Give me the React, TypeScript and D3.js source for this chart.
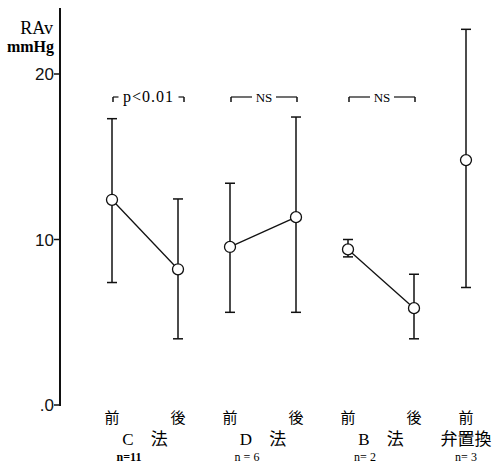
import * as React from "react";
import * as d3 from "d3";

const groups = ["C　法", "D　法", "B　法", "弁置換"];
const nLabels = ["n=11", "n = 6", "n= 2", "n= 3"];
const phases = [["前", "後"], ["前", "後"], ["前", "後"], ["前"]];
const means = [[12.4, 8.2], [9.55, 11.35], [9.4, 5.85], [14.8]];
const upper = [[17.3, 12.45], [13.4, 17.4], [10.0, 7.9], [22.7]];
const lower = [[7.4, 4.0], [5.6, 5.6], [8.95, 4.0], [7.1]];
const sigLabels = ["p<0.01", "NS", "NS", null];
const yTicks = [0, 10, 20];
const yTickLabels = [".0", "10", "20"];

const W = 499;
const H = 468;
const serif = "'Liberation Serif', 'Noto Sans CJK JP', serif";

export default function App() {
  const ref = React.useRef<SVGSVGElement>(null);

  React.useEffect(() => {
    const svg = d3.select(ref.current);
    svg.selectAll("*").remove();

    const y = d3.scaleLinear().domain([0, 20]).range([405, 74]);
    const gx = d3.scaleLinear().domain([0, 3]).range([112, 466]);
    const px = d3.scalePoint().domain(["前", "後"]).range([0, 66]);
    const xAt = (g: number, p: string) => gx(g) + (px(p) as number);

    // axis
    const axisX = 60;
    svg
      .append("line")
      .attr("x1", axisX)
      .attr("x2", axisX)
      .attr("y1", 8)
      .attr("y2", y(0) + 1)
      .attr("stroke", "#111")
      .attr("stroke-width", 2);

    yTicks.forEach((t, i) => {
      svg
        .append("line")
        .attr("x1", axisX - 6)
        .attr("x2", axisX)
        .attr("y1", y(t))
        .attr("y2", y(t))
        .attr("stroke", "#111")
        .attr("stroke-width", 1.5);
      svg
        .append("text")
        .attr("x", axisX - 6)
        .attr("y", y(t) + 6)
        .attr("text-anchor", "end")
        .attr("font-family", "'Liberation Sans', sans-serif")
        .attr("font-size", 17)
        .attr("fill", "#111")
        .text(yTickLabels[i]);
    });

    svg
      .append("text")
      .attr("x", 53)
      .attr("y", 34)
      .attr("text-anchor", "end")
      .attr("font-family", serif)
      .attr("font-size", 18)
      .text("RAv");
    svg
      .append("text")
      .attr("x", 54)
      .attr("y", 52)
      .attr("text-anchor", "end")
      .attr("font-family", serif)
      .attr("font-size", 16)
      .attr("font-weight", "bold")
      .text("mmHg");

    groups.forEach((name, g) => {
      const ph = phases[g];
      const pts = ph.map((p, i) => ({
        x: xAt(g, p),
        m: means[g][i],
        hi: upper[g][i],
        lo: lower[g][i],
      }));
      const grp = svg.append("g");

      // error bars
      pts.forEach((d) => {
        grp
          .append("line")
          .attr("x1", d.x)
          .attr("x2", d.x)
          .attr("y1", y(d.hi))
          .attr("y2", y(d.lo))
          .attr("stroke", "#111")
          .attr("stroke-width", 1.5);
        [d.hi, d.lo].forEach((v) => {
          grp
            .append("line")
            .attr("x1", d.x - 5)
            .attr("x2", d.x + 5)
            .attr("y1", y(v))
            .attr("y2", y(v))
            .attr("stroke", "#111")
            .attr("stroke-width", 1.5);
        });
      });

      // connecting line
      if (pts.length > 1) {
        grp
          .append("path")
          .attr(
            "d",
            d3
              .line<any>()
              .x((d) => d.x)
              .y((d) => y(d.m))(pts)
          )
          .attr("fill", "none")
          .attr("stroke", "#111")
          .attr("stroke-width", 1.3);
      }

      pts.forEach((d) => {
        grp
          .append("circle")
          .attr("cx", d.x)
          .attr("cy", y(d.m))
          .attr("r", 5.5)
          .attr("fill", "white")
          .attr("stroke", "#111")
          .attr("stroke-width", 1.3);
      });

      // significance bracket
      const sig = sigLabels[g];
      if (sig && pts.length > 1) {
        const x0 = pts[0].x + 1;
        const x1 = pts[1].x + (g === 0 ? 6 : 1);
        const by = 97;
        const mid = (x0 + x1) / 2;
        const halfText = g === 0 ? 30 : 12;
        [
          [x0, mid - halfText],
          [mid + halfText, x1],
        ].forEach(([a, b]) => {
          grp
            .append("line")
            .attr("x1", a)
            .attr("x2", b)
            .attr("y1", by)
            .attr("y2", by)
            .attr("stroke", "#111")
            .attr("stroke-width", 1.2);
        });
        [x0, x1].forEach((xx) => {
          grp
            .append("line")
            .attr("x1", xx)
            .attr("x2", xx)
            .attr("y1", by)
            .attr("y2", by + 5)
            .attr("stroke", "#111")
            .attr("stroke-width", 1.5);
        });
        grp
          .append("text")
          .attr("x", mid)
          .attr("y", by + 5)
          .attr("text-anchor", "middle")
          .attr("font-family", serif)
          .attr("font-size", g === 0 ? 16 : 13)
          .attr("letter-spacing", g === 0 ? 1 : 0)
          .text(sig);
      }

      // bottom labels
      ph.forEach((p) => {
        grp
          .append("text")
          .attr("x", xAt(g, p))
          .attr("y", 423)
          .attr("text-anchor", "middle")
          .attr("font-family", serif)
          .attr("font-size", 15)
          .text(p);
      });
      const center = pts.length > 1 ? (pts[0].x + pts[1].x) / 2 : pts[0].x;
      grp
        .append("text")
        .attr("x", center)
        .attr("y", 445)
        .attr("text-anchor", "middle")
        .attr("font-family", serif)
        .attr("font-size", 17)
        .text(name);
      grp
        .append("text")
        .attr("x", pts.length > 1 ? center - 16 : center)
        .attr("y", 461)
        .attr("text-anchor", "middle")
        .attr("font-family", serif)
        .attr("font-size", 12)
        .attr("font-weight", g === 0 ? "bold" : "normal")
        .text(nLabels[g]);
    });
  }, []);

  return (
    <svg
      ref={ref}
      width={W}
      height={H}
      style={{ position: "absolute", left: 0, top: 0, background: "white" }}
    />
  );
}
